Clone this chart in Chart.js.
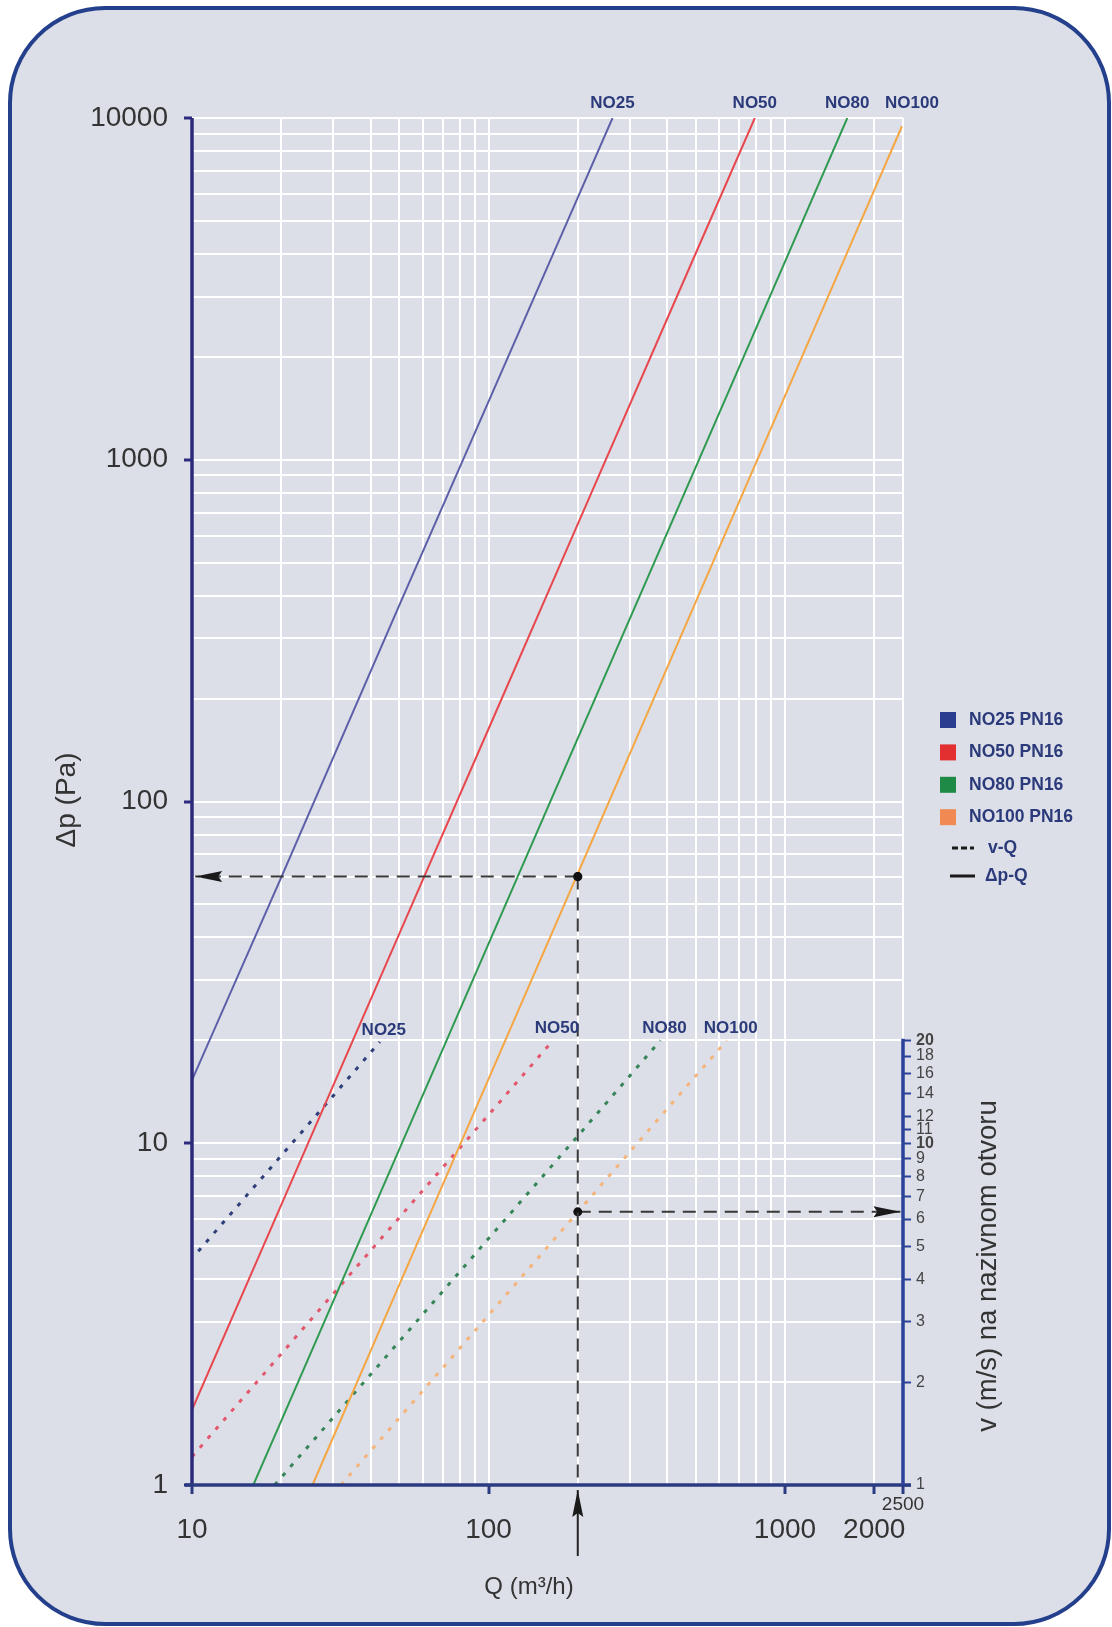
<!DOCTYPE html>
<html><head><meta charset="utf-8">
<script src="https://cdn.jsdelivr.net/npm/chart.js@4.4.1/dist/chart.umd.min.js"></script>
<style>html,body{margin:0;padding:0;background:#fff;}#wrap{width:1112px;height:1627px;}</style>
</head><body><div id="wrap"><canvas id="c" width="1112" height="1627"></canvas></div>
<script>
// ---------------- data ----------------
const seriesNames = ['NO25', 'NO50', 'NO80', 'NO100'];
const legendLabels = ['NO25 PN16', 'NO50 PN16', 'NO80 PN16', 'NO100 PN16'];
const lineLegendLabels = ['v-Q', 'Δp-Q'];

// Δp-Q curves (Q in m3/h, Δp in Pa)
const dpQ_NO25 = [10, 20, 50, 100, 200, 262];
const dp_NO25  = [15.3, 60, 375, 1480, 5850, 10000];
const dpQ_NO50 = [10, 20, 50, 100, 200, 500, 791];
const dp_NO50  = [1.66, 6.6, 41, 163, 648, 4020, 10000];
const dpQ_NO80 = [16.1, 20, 50, 100, 200, 500, 1000, 1622];
const dp_NO80  = [1, 1.54, 9.6, 38.3, 153, 951, 3800, 10000];
const dpQ_NO100 = [25.5, 50, 100, 200, 500, 1000, 2000, 2480];
const dp_NO100  = [1, 3.85, 15.4, 61.5, 384, 1538, 6150, 9460];

// v-Q curves (Q in m3/h, v in m/s)
const vQ_NO25 = [10.5, 20, 30, 43];
const v_NO25  = [4.83, 9.2, 13.8, 19.8];
const vQ_NO50 = [10, 20, 50, 100, 165];
const v_NO50  = [1.21, 2.42, 6.06, 12.1, 20];
const vQ_NO80 = [19, 50, 100, 200, 380];
const v_NO80  = [1, 2.63, 5.26, 10.5, 20];
const vQ_NO100 = [31.8, 100, 200, 400, 636];
const v_NO100  = [1, 3.14, 6.29, 12.6, 20];

// worked example (reading at Q = 200 m3/h on NO100)
const exampleQ = 200;
const exampleDp = 60.3;
const exampleV = 6.3;
const exampleLeftQ = 10.25;
const exampleRightQ = 2450;
const exampleArrowBottom = 0.62;
const exampleArrowTip = 0.967;

// axes
const xGridValues = [10, 20, 30, 40, 50, 60, 70, 80, 90,
                     100, 200, 300, 400, 500, 600, 700, 800, 900,
                     1000, 2000, 2500];
const xTickLabels = [10, 100, 1000, 2000];
const xEndLabel = 2500;
const yGridValues = [1, 2, 3, 4, 5, 6, 7, 8, 9,
                     10, 20, 30, 40, 50, 60, 70, 80, 90,
                     100, 200, 300, 400, 500, 600, 700, 800, 900,
                     1000, 2000, 3000, 4000, 5000, 6000, 7000, 8000, 9000,
                     10000];
const yTickLabels = [1, 10, 100, 1000, 10000];
const vTickValues = [1, 2, 3, 4, 5, 6, 7, 8, 9, 10, 11, 12, 14, 16, 18, 20];
const vBoldTicks = [10, 20];

const xTitle = 'Q (m³/h)';
const yTitle = 'Δp (Pa)';
const vTitle = 'v (m/s) na nazivnom otvoru';

// ---------------- styles ----------------
const FONT = '"Liberation Sans", Arial, Helvetica, sans-serif';
const solidColors = ['#5d5fa8', '#e8474e', '#2f9a50', '#f5a642'];
const dotColors   = ['#2e3f7a', '#e3566b', '#368558', '#f4b47c'];
const legendColors = ['#2a3d8f', '#e22f30', '#1e8a46', '#f08a52'];
const NAVY = '#2b3a7a';

function pts(xs, ys) { return xs.map((x, i) => ({x: x, y: ys[i]})); }

const dpSets = [[dpQ_NO25, dp_NO25], [dpQ_NO50, dp_NO50], [dpQ_NO80, dp_NO80], [dpQ_NO100, dp_NO100]];
const vSets = [[vQ_NO25, v_NO25], [vQ_NO50, v_NO50], [vQ_NO80, v_NO80], [vQ_NO100, v_NO100]];

const datasets = [];
const guideStyle = {borderColor: '#383838', borderWidth: 2, borderDash: [13, 8], pointRadius: [4.5, 0],
  pointBackgroundColor: '#111', pointBorderWidth: 0, fill: false};
datasets.push(Object.assign({label: 'exDpH', data: [{x: exampleQ, y: exampleDp}, {x: exampleLeftQ, y: exampleDp}],
  yAxisID: 'y', arrowEnd: true}, guideStyle));
datasets.push(Object.assign({label: 'exDpV', data: [{x: exampleQ, y: exampleDp}, {x: exampleQ, y: 1}],
  yAxisID: 'y'}, guideStyle));
datasets.push(Object.assign({label: 'exV', data: [{x: exampleQ, y: exampleV}, {x: exampleRightQ, y: exampleV}],
  yAxisID: 'yv', arrowEnd: true}, guideStyle));
datasets.push({label: 'exArrow', data: [{x: exampleQ, y: exampleArrowBottom}, {x: exampleQ, y: exampleArrowTip}],
  yAxisID: 'y', borderColor: '#222', borderWidth: 2, pointRadius: 0, clip: false, arrowEnd: true});

seriesNames.forEach((n, i) => {
  datasets.push({label: n + ' Δp-Q', data: pts(dpSets[i][0], dpSets[i][1]), yAxisID: 'y',
    borderColor: solidColors[i], borderWidth: 2, pointRadius: 0, kind: 'dp', seriesIndex: i});
});
seriesNames.forEach((n, i) => {
  datasets.push({label: n + ' v-Q', data: pts(vSets[i][0], vSets[i][1]), yAxisID: 'yv',
    borderColor: dotColors[i], borderWidth: 3, borderDash: [4, 8], pointRadius: 0, kind: 'v', seriesIndex: i});
});

// ---------------- plugins ----------------
const bgPlugin = {
  id: 'bg',
  beforeDraw(chart) {
    const ctx = chart.ctx;
    ctx.save();
    ctx.fillStyle = '#ffffff';
    ctx.fillRect(0, 0, chart.width, chart.height);
    const x0 = 10, y0 = 8, x1 = 1109, y1 = 1624, r = 95;
    ctx.beginPath();
    ctx.moveTo(x0 + r, y0);
    ctx.lineTo(x1 - r, y0);
    ctx.arcTo(x1, y0, x1, y0 + r, r);
    ctx.lineTo(x1, y1 - r);
    ctx.arcTo(x1, y1, x1 - r, y1, r);
    ctx.lineTo(x0 + r, y1);
    ctx.arcTo(x0, y1, x0, y1 - r, r);
    ctx.lineTo(x0, y0 + r);
    ctx.arcTo(x0, y0, x0 + r, y0, r);
    ctx.closePath();
    ctx.fillStyle = '#dcdfe7';
    ctx.fill();
    ctx.lineWidth = 4;
    ctx.strokeStyle = '#24408c';
    ctx.stroke();
    ctx.restore();
  }
};

function drawArrow(ctx, a, b, len, half) {
  const ang = Math.atan2(b.y - a.y, b.x - a.x);
  ctx.save();
  ctx.translate(b.x, b.y);
  ctx.rotate(ang);
  ctx.beginPath();
  ctx.moveTo(0, 0);
  ctx.lineTo(-len, -half);
  ctx.lineTo(-len * 0.85, 0);
  ctx.lineTo(-len, half);
  ctx.closePath();
  ctx.fillStyle = '#1a1a1a';
  ctx.fill();
  ctx.restore();
}

const overlayPlugin = {
  id: 'overlay',
  afterDraw(chart) {
    const ctx = chart.ctx;
    const ca = chart.chartArea;
    const xs = chart.scales.x, ys = chart.scales.y, vs = chart.scales.yv;
    ctx.save();
    // axis lines
    ctx.lineCap = 'butt';
    ctx.lineWidth = 3.5;
    ctx.strokeStyle = '#2d2a7c';
    ctx.beginPath(); ctx.moveTo(ca.left, ca.top); ctx.lineTo(ca.left, ca.bottom); ctx.stroke();
    ctx.strokeStyle = '#2b3b82';
    ctx.beginPath(); ctx.moveTo(ca.left - 7, ca.bottom); ctx.lineTo(ca.right + 8, ca.bottom); ctx.stroke();
    ctx.strokeStyle = '#2b429a';
    const vTop = vs.getPixelForValue(vTickValues[vTickValues.length - 1]);
    ctx.beginPath(); ctx.moveTo(ca.right, vTop - 1.5); ctx.lineTo(ca.right, ca.bottom); ctx.stroke();

    // arrows
    chart.data.datasets.forEach((ds, i) => {
      if (!ds.arrowEnd) return;
      const d = chart.getDatasetMeta(i).data;
      drawArrow(ctx, d[d.length - 2], d[d.length - 1], 27, 5.5);
    });

    // series labels
    ctx.fillStyle = NAVY;
    ctx.font = 'bold 17px ' + FONT;
    ctx.textAlign = 'center';
    ctx.textBaseline = 'middle';
    chart.data.datasets.forEach((ds, i) => {
      if (!ds.kind) return;
      const d = chart.getDatasetMeta(i).data;
      const p = d[d.length - 1];
      const name = seriesNames[ds.seriesIndex];
      if (ds.kind === 'dp') ctx.fillText(name, p.x + (ds.seriesIndex === 3 ? 10 : 0), ca.top - 15);
      else ctx.fillText(name, p.x + 4, p.y - 12);
    });

    // legend
    const lx = ca.right + 37;
    ctx.textAlign = 'left';
    ctx.font = 'bold 17.5px ' + FONT;
    legendLabels.forEach((t, i) => {
      const y = 720 + i * 32.4;
      ctx.fillStyle = legendColors[i];
      ctx.fillRect(lx, y - 8, 16, 16);
      ctx.fillStyle = NAVY;
      ctx.fillText(t, lx + 29, y);
    });
    ctx.strokeStyle = '#1a1a1a';
    ctx.lineWidth = 3;
    ctx.setLineDash([6, 3]);
    ctx.beginPath(); ctx.moveTo(lx + 12, 848); ctx.lineTo(lx + 34, 848); ctx.stroke();
    ctx.setLineDash([]);
    ctx.beginPath(); ctx.moveTo(lx + 10, 876); ctx.lineTo(lx + 35, 876); ctx.stroke();
    ctx.fillStyle = NAVY;
    ctx.fillText(lineLegendLabels[0], lx + 48, 848);
    ctx.fillText(lineLegendLabels[1], lx + 45, 876);

    // 2500 end label
    ctx.fillStyle = '#333';
    ctx.font = '19px ' + FONT;
    ctx.textAlign = 'center';
    ctx.fillText(String(xEndLabel), xs.getPixelForValue(xEndLabel), ca.bottom + 20);

    // titles
    ctx.font = '24px ' + FONT;
    ctx.fillText(xTitle, 529, 1587);
    ctx.font = '28px ' + FONT;
    ctx.save();
    ctx.translate(67, 800);
    ctx.rotate(-Math.PI / 2);
    ctx.fillText(yTitle, 0, 0);
    ctx.restore();
    ctx.font = '27.5px ' + FONT;
    ctx.save();
    ctx.translate(988, 1266);
    ctx.rotate(-Math.PI / 2);
    ctx.fillText(vTitle, 0, 0);
    ctx.restore();
    ctx.restore();
  }
};

// ---------------- chart ----------------
new Chart(document.getElementById('c'), {
  type: 'line',
  data: {datasets: datasets},
  plugins: [bgPlugin, overlayPlugin],
  options: {
    responsive: false,
    animation: false,
    devicePixelRatio: 1,
    layout: {padding: {top: 118, left: 0, right: 0, bottom: 0}},
    elements: {line: {tension: 0}},
    plugins: {legend: {display: false}, tooltip: {enabled: false}},
    scales: {
      x: {
        type: 'logarithmic', position: 'bottom', min: 10, max: 2500,
        afterBuildTicks: s => { s.ticks = xGridValues.map(v => ({value: v, major: xTickLabels.includes(v) || v === xEndLabel})); },
        afterFit: s => { s.height = 142; },
        border: {display: false},
        grid: {color: '#ffffff', lineWidth: 2, drawTicks: true, tickLength: 9, tickWidth: 3,
          tickColor: c => (c.tick && (xTickLabels.includes(c.tick.value) || c.tick.value === xEndLabel)) ? '#2b3b82' : 'rgba(0,0,0,0)'},
        ticks: {autoSkip: false, maxRotation: 0, padding: 19, color: '#333',
          font: {size: 28, family: FONT},
          callback: v => xTickLabels.includes(v) ? String(v) : ''}
      },
      y: {
        type: 'logarithmic', position: 'left', min: 1, max: 10000,
        afterBuildTicks: s => { s.ticks = yGridValues.map(v => ({value: v, major: yTickLabels.includes(v)})); },
        afterFit: s => { s.width = 192; },
        border: {display: false},
        grid: {color: '#ffffff', lineWidth: 2, drawTicks: true, tickLength: 8, tickWidth: 3,
          tickColor: c => (c.tick && yTickLabels.includes(c.tick.value)) ? '#2d2a7c' : 'rgba(0,0,0,0)'},
        ticks: {autoSkip: false, padding: 16, color: '#333',
          font: {size: 28, family: FONT},
          callback: v => yTickLabels.includes(v) ? String(v) : ''}
      },
      yv: {
        type: 'logarithmic', position: 'right', min: 1, max: 10000,
        afterBuildTicks: s => { s.ticks = vTickValues.map(v => ({value: v})); },
        afterFit: s => { s.width = 209; },
        border: {display: false},
        grid: {drawOnChartArea: false, drawTicks: true, tickLength: 8, tickWidth: 2, tickColor: '#2b429a'},
        ticks: {autoSkip: false, padding: 5, color: '#444',
          font: c => ({size: 16, family: FONT, weight: (c.tick && vBoldTicks.includes(c.tick.value)) ? 'bold' : 'normal'}),
          callback: v => String(v)}
      }
    }
  }
});
</script>
</body></html>
